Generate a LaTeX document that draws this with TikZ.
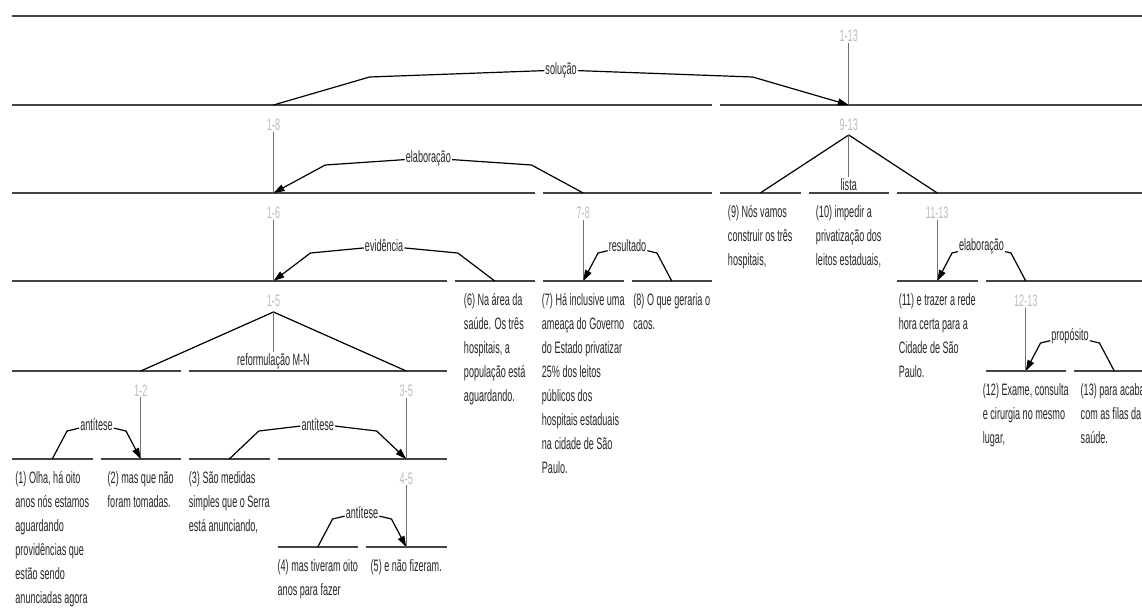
\documentclass[tikz,border=0pt]{standalone}
\usepackage{fontspec}
\setmainfont{Liberation Sans}[FakeStretch=0.55]
\usetikzlibrary{arrows.meta}
\definecolor{segcol}{HTML}{444444}
\definecolor{spancol}{HTML}{BBBBBB}
\definecolor{txtcol}{HTML}{262626}
\definecolor{stemcol}{HTML}{707070}

\begin{document}
\begin{tikzpicture}[x=1pt, y=-1pt,
    every node/.style={font=\fontsize{16.5}{24}\selectfont, text=txtcol, inner sep=0.5pt},
    segline/.style={segcol, line width=2pt},
    spanlbl/.style={text=spancol},
    spanstem/.style={stemcol, line width=0.8pt},
    arcline/.style={black, line width=1.2pt, line join=round},
    mnline/.style={black, line width=1.2pt},
    rellbl/.style={text=txtcol, inner sep=1pt},
    mnlbl/.style={fill=white, anchor=south, inner sep=1pt},
    edutext/.style={anchor=north, align=left, inner sep=0pt}
]
\useasboundingbox (0,0) rectangle (1142,613);
\clip (0,0) rectangle (1142,613);
\def\colw{88.5}
\def\colx{52.25}

\foreach \y/\i/\j in {16/0/12, 105/0/7, 105/8/12,
  193/0/5, 193/6/7, 193/8/8, 193/9/9, 193/10/12,
  281/0/4, 281/5/5, 281/6/6, 281/7/7, 281/10/10, 281/11/12,
  371/0/1, 371/2/4, 371/11/11, 371/12/12,
  459/0/0, 459/1/1, 459/2/2, 459/3/4,
  547/3/3, 547/4/4}{
  \draw[segline] ({12+\colw*\i},\y) -- ({92.5+\colw*\j},\y);
}

\foreach \k/\x/\y/\txt/\stop in {%
  113/848.75/16/1-13/105, 18/273.5/105/1-8/193, 16/273.5/193/1-6/281,%
  78/583.25/193/7-8/281, 1113/937.25/193/11-13/281, 1213/1025.75/281/12-13/371,%
  12/140.75/371/1-2/459, 35/406.25/371/3-5/459, 45/406.25/459/4-5/547}{
  \node[spanlbl] (sp\k) at (\x,\y+20) {\txt};
  \coordinate (st\k) at (\x,\stop);
  \draw[spanstem] (sp\k) -- (st\k);
}

\node[spanlbl] (sp913) at (848.75,125) {9-13};
\coordinate (pk913) at (848.75,135);
\coordinate (a9) at (760.25,193);
\coordinate (a1113) at (937.25,193);
\node[mnlbl] (mn913) at (848.75,192) {lista};
\draw[mnline] (a9) -- (pk913) -- (a1113);
\draw[spanstem] (pk913) -- (mn913);

\node[spanlbl] (sp15) at (273.5,301) {1-5};
\coordinate (pk15) at (273.5,312);
\coordinate (a12) at (140.75,371);
\coordinate (a35) at (406.25,371);
\node[mnlbl] (mn15) at (273.5,370) {reformulação M-N};
\draw[mnline] (a12) -- (pk15) -- (a35);
\draw[spanstem] (pk15) -- (mn15);

\foreach \k/\y/\s/\n/\rel in {%
  1/105/273.5/848.75/solução, 2/193/583.25/273.5/elaboração,%
  3/281/494.75/273.5/evidência, 4/281/671.75/583.25/resultado,%
  5/281/1025.75/937.25/elaboração, 6/371/1114.25/1025.75/propósito,%
  7/459/52.25/140.75/antítese, 8/459/229.25/406.25/antítese,%
  9/547/317.75/406.25/antítese}{
  \pgfmathsetmacro{\xup}{\s+0.167*(\n-\s)}
  \pgfmathsetmacro{\xdn}{\n-0.167*(\n-\s)}
  \pgfmathsetmacro{\xmid}{(\s+\n)/2}
  \coordinate (sat\k) at (\s,\y);
  \coordinate (nuc\k) at (\n,\y);
  \coordinate (up\k) at (\xup,\y-28);
  \coordinate (dn\k) at (\xdn,\y-28);
  \node[rellbl] (rel\k) at (\xmid,\y-35) {\rel};
  \draw[arcline] (sat\k) -- (up\k) -- (rel\k);
  \draw[arcline, -{Triangle[length=11pt,width=7pt]}] (rel\k) -- (dn\k) -- (nuc\k);
}

\node[edutext] (edu1) at ({\colx+0*\colw},471)
  {(1) Olha, há oito\\anos nós estamos\\aguardando\\providências que\\estão sendo\\anunciadas agora};
\node[edutext] (edu2) at ({\colx+1*\colw},471) {(2) mas que não\\foram tomadas.};
\node[edutext] (edu3) at ({\colx+2*\colw},471) {(3) São medidas\\simples que o Serra\\está anunciando,};
\node[edutext] (edu4) at ({\colx+3*\colw},559) {(4) mas tiveram oito\\anos para fazer};
\node[edutext] (edu5) at ({\colx+4*\colw},559) {(5) e não fizeram.};
\node[edutext] (edu6) at ({\colx+5*\colw},293)
  {(6) Na área da\\saúde. Os três\\hospitais, a\\população está\\aguardando.};
\node[edutext] (edu7) at ({\colx+6*\colw},293)
  {(7) Há inclusive uma\\ameaça do Governo\\do Estado privatizar\\25\% dos leitos\\públicos dos\\hospitais estaduais\\na cidade de São\\Paulo.};
\node[edutext] (edu8) at ({\colx+7*\colw},293) {(8) O que geraria o\\caos.};
\node[edutext] (edu9) at ({\colx+8*\colw},205) {(9) Nós vamos\\construir os três\\hospitais,};
\node[edutext] (edu10) at ({\colx+9*\colw},205) {(10) impedir a\\privatização dos\\leitos estaduais,};
\node[edutext] (edu11) at ({\colx+10*\colw},293) {(11) e trazer a rede\\hora certa para a\\Cidade de São\\Paulo.};
\node[edutext] (edu12) at ({\colx+11*\colw},383) {(12) Exame, consulta\\e cirurgia no mesmo\\lugar,};
\node[edutext] (edu13) at ({\colx+12*\colw},383) {(13) para acabar\\com as filas da\\saúde.};

\end{tikzpicture}
\end{document}
